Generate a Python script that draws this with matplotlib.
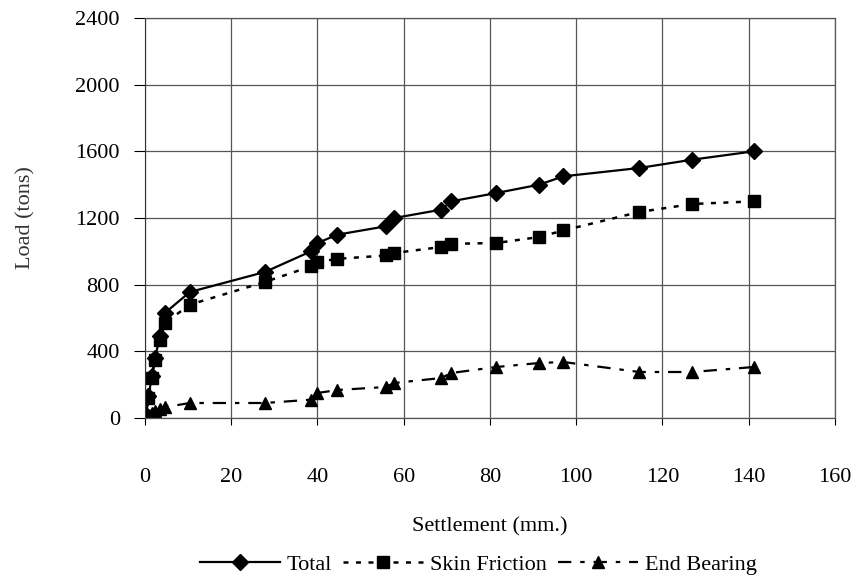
import numpy as np
import matplotlib.pyplot as plt

plt.rcParams['font.family'] = ['Liberation Serif', 'DejaVu Serif']

# settlement (mm)
settlement = [0, 0.3, 0.8, 1.6, 2.3, 3.5, 4.6, 10.4, 27.8, 38.5, 40.0, 44.6,
              55.8, 57.8, 68.7, 71.0, 81.5, 91.4, 97.0, 114.6, 126.9, 141.2]
total = [0, 20, 130, 250, 360, 490, 630, 756, 876, 1000, 1050, 1100,
         1150, 1200, 1250, 1300, 1350, 1400, 1450, 1500, 1550, 1600]
skin_friction = [0, 10, 120, 240, 350, 470, 570, 680, 816, 910, 936, 955,
                 975, 990, 1026, 1045, 1050, 1086, 1125, 1236, 1284, 1300]
end_bearing = [0, 10, 20, 30, 40, 55, 65, 90, 90, 110, 150, 168,
               186, 210, 240, 270, 306, 330, 336, 276, 276, 306]

x_ticks = [0, 20, 40, 60, 80, 100, 120, 140, 160]
y_ticks = [0, 400, 800, 1200, 1600, 2000, 2400]

fs = 16

fig = plt.figure(figsize=(8.62, 5.81), dpi=100)
ax = fig.add_axes([145/862, 1 - 418/581, 690/862, 400/581])

ax.plot(settlement, total, color='black', linestyle='-', linewidth=1.6,
        marker='D', markersize=8, label='Total')
ax.plot(settlement, skin_friction, color='black', linestyle=(0, (2, 3)), linewidth=1.8,
        marker='s', markersize=9, label='Skin Friction')
ax.plot(settlement, end_bearing, color='black', linestyle=(0, (6, 4, 2, 4)), linewidth=1.6,
        marker='^', markersize=9, label='End Bearing')

ax.set_xlim(0, 160)
ax.set_ylim(0, 2400)
ax.set_xticks(x_ticks)
ax.set_yticks(y_ticks)
ax.grid(True, color='#555555', linewidth=0.9)
ax.set_axisbelow(True)
for side in ['top', 'right', 'bottom']:
    ax.spines[side].set_color('#555555')
    ax.spines[side].set_linewidth(0.9)
ax.spines['left'].set_color('#333333')

ax.tick_params(axis='y', direction='out', length=8, width=0.8, pad=10, labelsize=fs)
ax.tick_params(axis='x', direction='out', length=5, width=0.8, pad=31, labelsize=fs)

ax.set_xlabel('Settlement (mm.)', fontsize=fs, labelpad=22)
ax.set_ylabel('Load (tons)', fontsize=fs, color='#333333')
ax.yaxis.set_label_coords(-0.158, 0.5)

fig.legend(loc='center', bbox_to_anchor=(0.555, 1 - 565/581), ncol=3, frameon=False,
           fontsize=fs, handlelength=3.6, columnspacing=0.5, handletextpad=0.3)

fig.savefig('out.png', dpi=100)
